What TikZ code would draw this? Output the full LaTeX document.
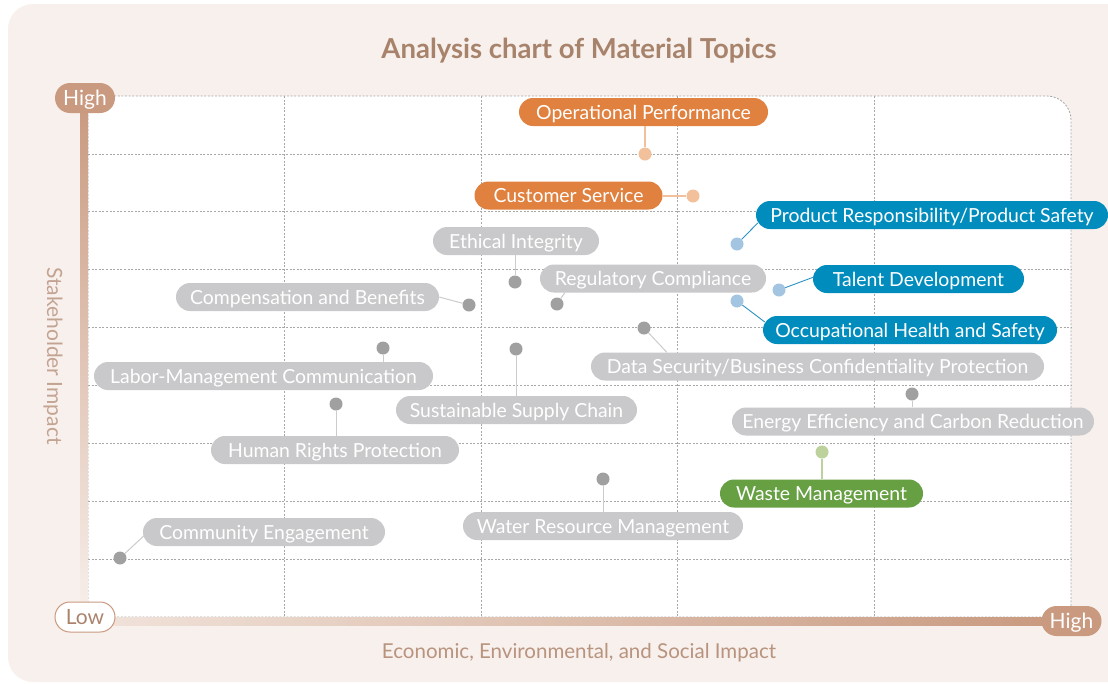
\documentclass[tikz,border=0pt]{standalone}
\usepackage{fontspec}
\setmainfont{Lato}
\definecolor{bgpink}{HTML}{F8F0EC}
\definecolor{tan}{HTML}{C99A80}
\definecolor{tanlight}{HTML}{F1E3DB}
\definecolor{titlebrown}{HTML}{A8836C}
\definecolor{axisbrown}{HTML}{B8937E}
\definecolor{gridgray}{HTML}{A8A8A8}
\definecolor{lorange}{HTML}{E0813F}
\definecolor{dorange}{HTML}{F2C19B}
\definecolor{lblue}{HTML}{008DBE}
\definecolor{dblue}{HTML}{A3C5E2}
\definecolor{cblue}{HTML}{2C92C4}
\definecolor{lgray}{HTML}{C9C9CB}
\definecolor{dgray}{HTML}{A0A0A0}
\definecolor{cgray}{HTML}{CCCCCC}
\definecolor{lgreen}{HTML}{66A043}
\definecolor{dgreen}{HTML}{BCD19C}
\tikzset{
  grid line/.style={gridgray, line width=0.8pt, dash pattern=on 2pt off 1.6pt},
  lbl/.style={rounded corners=14pt, minimum height=28pt, inner sep=0pt, text height=14pt, text depth=0pt, text=white, font=\fontsize{19.4}{22}\selectfont},
  graylbl/.style={lbl, fill=lgray},
  orangelbl/.style={lbl, fill=lorange},
  bluelbl/.style={lbl, fill=lblue},
  greenlbl/.style={lbl, fill=lgreen},
  dotnode/.style={circle, minimum size=13pt, inner sep=0pt},
  graydot/.style={dotnode, fill=dgray},
  orangedot/.style={dotnode, fill=dorange},
  bluedot/.style={dotnode, fill=dblue},
  greendot/.style={dotnode, fill=dgreen},
  graylink/.style={cgray, line width=1pt},
  orangelink/.style={dorange, line width=1.6pt},
  bluelink/.style={cblue, line width=0.9pt},
  greenlink/.style={dgreen, line width=1.6pt},
  axispill/.style={rounded corners=15pt, minimum width=60pt, minimum height=30pt, inner sep=0pt, text height=15pt, text depth=0pt, font=\fontsize{21}{24}\selectfont},
}
\begin{document}
\begin{tikzpicture}[x=1pt,y=-1pt]
\useasboundingbox (0,0) rectangle (1108,683);
% background panel
\fill[bgpink, rounded corners=25pt] (8,4) rectangle (1140,682);
% white plotting area
\fill[white] (88,617) -- (88,96) -- (1047,96) .. controls (1060.25,96) and (1071,106.75) .. (1071,120) -- (1071,617) -- cycle;
% grid
\foreach \gx in {284.6,481.2,677.8,874.4} \draw[grid line] (\gx,96) -- (\gx,617);
\foreach \gy in {153.9,211.8,269.7,327.6,385.4,443.3,501.2,559.1} \draw[grid line] (88,\gy) -- (1071,\gy);
\draw[grid line] (88,617) -- (88,96) -- (1047,96) .. controls (1060.25,96) and (1071,106.75) .. (1071,120) -- (1071,617) -- (88,617);
% axes bars
\shade[top color=tan, bottom color=bgpink] (80,105) rectangle (88,617);
\shade[left color=tanlight, right color=tan] (88,617) rectangle (1050,625);
% axis pills
\node[axispill, fill=tan, text=white] (yhigh) at (85,98) {High};
\node[axispill, fill=white, draw=tan, line width=1pt, text=tan!85!black] (low) at (85,617) {Low};
\node[axispill, fill=tan, text=white] (xhigh) at (1071.5,621) {High};
% titles
\node[font=\fontsize{27.5}{30}\selectfont\bfseries, text=titlebrown] (title) at (579,51) {Analysis chart of Material Topics};
\node[font=\fontsize{20.5}{23}\selectfont, text=axisbrown] (xlabel) at (579,653) {Economic, Environmental, and Social Impact};
\node[font=\fontsize{21}{24}\selectfont, text=axisbrown!85, rotate=-90] (ylabel) at (53,356) {Stakeholder Impact};
% dots
\node[orangedot] (d1) at (645,154) {};
\node[orangedot] (d2) at (693,196) {};
\node[bluedot] (d3) at (737,244) {};
\node[bluedot] (d4) at (779,290) {};
\node[bluedot] (d5) at (737,301) {};
\node[graydot] (d6) at (515,282) {};
\node[graydot] (d7) at (557,304) {};
\node[graydot] (d8) at (469,305) {};
\node[graydot] (d9) at (383,348) {};
\node[graydot] (d10) at (336,404) {};
\node[graydot] (d11) at (516,349) {};
\node[graydot] (d12) at (644,328) {};
\node[graydot] (d13) at (912,394) {};
\node[greendot] (d14) at (822,452) {};
\node[graydot] (d15) at (603,479) {};
\node[graydot] (d16) at (120,558) {};
% labels
\node[orangelbl, minimum width=249pt] (l1) at (643.5,112) {Operational Performance};
\node[orangelbl, minimum width=188pt] (l2) at (568.5,195.5) {Customer Service};
\node[bluelbl, minimum width=352pt] (l3) at (932,215) {Product Responsibility/Product Safety};
\node[bluelbl, minimum width=211pt] (l4) at (918.5,279) {Talent Development};
\node[bluelbl, minimum width=294pt] (l5) at (910,330) {Occupational Health and Safety};
\node[graylbl, minimum width=166pt] (l6) at (516,241) {Ethical Integrity};
\node[graylbl, minimum width=226pt] (l7) at (653,278.5) {Regulatory Compliance};
\node[graylbl, minimum width=263pt] (l8) at (307.5,297) {Compensation and Benefits};
\node[graylbl, minimum width=339pt] (l9) at (263.5,376) {Labor-Management Communication};
\node[graylbl, minimum width=248pt] (l10) at (335,450) {Human Rights Protection};
\node[graylbl, minimum width=241pt] (l11) at (516.5,410) {Sustainable Supply Chain};
\node[graylbl, minimum width=453pt] (l12) at (817.5,366.5) {Data Security/Business Confidentiality Protection};
\node[graylbl, minimum width=362pt] (l13) at (913,421.5) {Energy Efficiency and Carbon Reduction};
\node[greenlbl, minimum width=203pt] (l14) at (821.5,493.5) {Waste Management};
\node[graylbl, minimum width=280pt] (l15) at (603,526) {Water Resource Management};
\node[graylbl, minimum width=242pt] (l16) at (264,532) {Community Engagement};
% connectors
\draw[orangelink] (d1) -- (d1 |- l1.south);
\draw[orangelink] (d2) -- (d2 -| l2.east);
\draw[bluelink] (d3) -- ([xshift=2pt,yshift=-8pt]l3.west);
\draw[bluelink] (d4) -- ([xshift=1pt,yshift=2pt]l4.west);
\draw[bluelink] (d5) -- ([xshift=2pt,yshift=8pt]l5.west);
\draw[graylink] (d6) -- (d6 |- l6.south);
\draw[graylink] (d7) -- ([xshift=25pt]l7.south west);
\draw[graylink] (d8) -- (l8.east);
\draw[graylink] (d9) -- (d9 |- l9.north);
\draw[graylink] (d10) -- (d10 |- l10.north);
\draw[graylink] (d11) -- (d11 |- l11.north);
\draw[graylink] (d12) -- ([xshift=76pt]l12.north west);
\draw[graylink] (d13) -- (d13 |- l13.north);
\draw[greenlink] (d14) -- (d14 |- l14.north);
\draw[graylink] (d15) -- (d15 |- l15.north);
\draw[graylink] (d16) -- ([xshift=2pt,yshift=-3pt]l16.west);
\end{tikzpicture}
\end{document}
